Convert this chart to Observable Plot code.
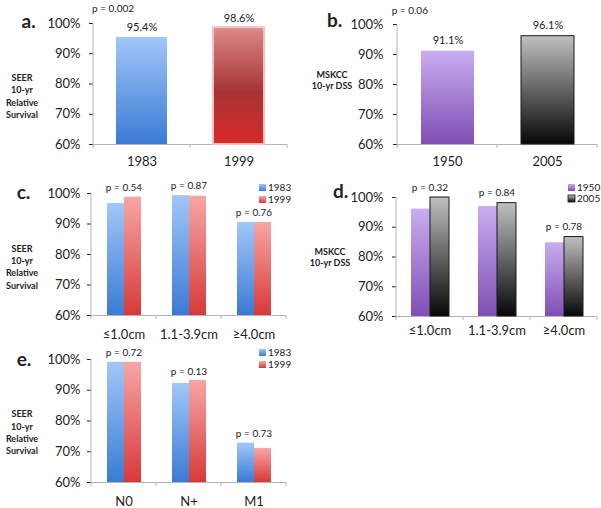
<!DOCTYPE html>
<html>
<head>
<meta charset="utf-8">
<script src="https://cdn.jsdelivr.net/npm/d3@7"></script>
<script src="https://cdn.jsdelivr.net/npm/@observablehq/plot@0.6"></script>
<style>
  body { margin: 0; background: #fff; }
  #root { position: relative; width: 601px; height: 508px; overflow: hidden; background: #fff; font-family: Lato, "Open Sans", sans-serif; color: #222; }
  #root svg.panel { position: absolute; }
  #root svg.overlay { position: absolute; left: 0; top: 0; pointer-events: none; }
  g[aria-label="y-axis tick"] { stroke: #b4b4b4; }
</style>
</head>
<body>
<div id="root">
  <svg width="0" height="0" style="position:absolute">
    <defs>
      <linearGradient id="gBlue" x1="0" y1="0" x2="0" y2="1">
        <stop offset="0" stop-color="#a2c7f8"/><stop offset="1" stop-color="#3a7bd5"/>
      </linearGradient>
      <linearGradient id="gRedA" x1="0" y1="0" x2="0" y2="1">
        <stop offset="0" stop-color="#dc8a8a"/><stop offset="0.55" stop-color="#a63333"/><stop offset="1" stop-color="#d92a2a"/>
      </linearGradient>
      <linearGradient id="gRed" x1="0" y1="0" x2="0" y2="1">
        <stop offset="0" stop-color="#f7a6a6"/><stop offset="1" stop-color="#d83939"/>
      </linearGradient>
      <linearGradient id="gPurple" x1="0" y1="0" x2="0" y2="1">
        <stop offset="0" stop-color="#caadf0"/><stop offset="1" stop-color="#7f4fb4"/>
      </linearGradient>
      <linearGradient id="gGray" x1="0" y1="0" x2="0" y2="1">
        <stop offset="0" stop-color="#c0c0c0"/><stop offset="1" stop-color="#070707"/>
      </linearGradient>
    </defs>
  </svg>
</div>
<script>
// ---------- data ----------
const yMin = 60, yMax = 100;
const yTicks = [60, 70, 80, 90, 100];

const aYears = ["1983", "1999"];
const aSurvival = [95.4, 98.6];
const aPValue = "p = 0.002";

const bYears = ["1950", "2005"];
const bSurvival = [91.1, 96.1];
const bPValue = "p = 0.06";

const seerYears = ["1983", "1999"];
const mskccYears = ["1950", "2005"];

const sizeCategories = ["≤1.0cm", "1.1-3.9cm", "≥4.0cm"];
const cSeer1983 = [96.7, 99.3, 90.5];
const cSeer1999 = [98.8, 99.1, 90.5];
const cPValues = ["p = 0.54", "p = 0.87", "p = 0.76"];

const dMskcc1950 = [96.1, 97.0, 84.8];
const dMskcc2005 = [100.0, 98.1, 86.7];
const dPValues = ["p = 0.32", "p = 0.84", "p = 0.78"];

const stageCategories = ["N0", "N+", "M1"];
const eSeer1983 = [99.1, 92.2, 72.8];
const eSeer1999 = [99.1, 93.2, 71.1];
const ePValues = ["p = 0.72", "p = 0.13", "p = 0.73"];

const panelLetters = ["a.", "b.", "c.", "d.", "e."];
const seerTitle = ["SEER", "10-yr", "Relative", "Survival"];
const mskccTitle = ["MSKCC", "10-yr DSS"];

// ---------- styles ----------
const axisGray = "#b4b4b4";
const textColor = "#222";
const FONT = "Lato, 'Open Sans', sans-serif";
const barStyles = {
  seer83: {fill: "url(#gBlue)", stroke: "none", strokeWidth: 0},
  seer99a: {fill: "url(#gRedA)", stroke: "#f3c0c0", strokeWidth: 2},
  seer99: {fill: "url(#gRed)", stroke: "none", strokeWidth: 0},
  msk50: {fill: "url(#gPurple)", stroke: "none", strokeWidth: 0},
  msk05: {fill: "url(#gGray)", stroke: "#1a1a1a", strokeWidth: 1}
};

// ---------- tables built from arrays ----------
const singleRows = (years, vals, keys) => years.map((yr, i) => ({cat: yr, s: "v", value: vals[i], k: keys[i]}));
const groupRows = (cats, series, v0, v1, keys) => cats.flatMap((c, i) => [
  {cat: c, s: series[0], value: v0[i], k: keys[0]},
  {cat: c, s: series[1], value: v1[i], k: keys[1]}
]);
const groupTops = (cats, v0, v1, ps) => cats.map((c, i) => ({cat: c, top: Math.max(v0[i], v1[i]), p: ps[i]}));

const root = document.getElementById("root");

function drawPanel(p) {
  const keys = [...new Set(p.rows.map(r => r.k))];
  const marks = [Plot.ruleY([yMin], {stroke: axisGray})];
  for (const k of keys) {
    const st = barStyles[k];
    marks.push(Plot.barY(p.rows.filter(r => r.k === k), {
      fx: "cat", x: "s", y1: yMin, y2: "value",
      fill: st.fill, stroke: st.stroke, strokeWidth: st.strokeWidth
    }));
  }
  if (p.valueLabels) {
    marks.push(Plot.text(p.rows, {fx: "cat", x: "s", y: "value", text: r => r.value.toFixed(1) + "%", dy: p.labelDy, fontSize: 11, fill: textColor}));
  }
  if (p.groups) {
    marks.push(Plot.text(p.groups, {fx: "cat", y: "top", text: "p", dy: p.labelDy, fontSize: 10, fill: textColor}));
  }
  const plot = Plot.plot({
    width: p.w, height: p.h,
    marginLeft: p.ml, marginRight: p.mr, marginTop: p.mt, marginBottom: p.mb,
    style: {fontFamily: FONT, fontSize: "13px", color: textColor, background: "transparent", overflow: "visible"},
    fx: {domain: p.cats, paddingInner: 0, paddingOuter: 0, label: null, axis: "bottom", tickSize: 0, tickPadding: p.xPad},
    x: {domain: p.series, paddingInner: 0, paddingOuter: p.innerPad, axis: null},
    y: {domain: [yMin, yMax], ticks: yTicks, tickFormat: d => d + "%", tickSize: 4, tickPadding: p.yPad, label: null},
    marks
  });
  plot.classList.add("panel");
  plot.style.left = p.left + "px";
  plot.style.top = p.top + "px";
  // axis line and category boundary ticks from the library's scales
  const fx = plot.scale("fx"), y = plot.scale("y");
  const y0 = y.apply(yMin), y1 = y.apply(yMax);
  const bounds = fx.domain.map(c => fx.apply(c)).concat([fx.apply(fx.domain[fx.domain.length - 1]) + fx.bandwidth]);
  const g = d3.select(plot).append("g").attr("stroke", axisGray).attr("fill", "none");
  g.append("line").attr("x1", bounds[0]).attr("x2", bounds[0]).attr("y1", y0).attr("y2", y1);
  g.selectAll("line.b").data(bounds).join("line").attr("class", "b")
    .attr("x1", d => d).attr("x2", d => d).attr("y1", y0).attr("y2", y0 + 4);
  root.appendChild(plot);
}

drawPanel({left: 0, top: 0, w: 300, h: 170, ml: 92, mr: 13, mt: 23, mb: 26, yPad: 9, xPad: 12.5,
  cats: aYears, series: ["v"], innerPad: 0.4375, rows: singleRows(aYears, aSurvival, ["seer83", "seer99a"]),
  valueLabels: true, labelDy: -9.5});
drawPanel({left: 300, top: 0, w: 301, h: 170, ml: 97, mr: 4, mt: 24, mb: 26, yPad: 10, xPad: 12.5,
  cats: bYears, series: ["v"], innerPad: 0.426, rows: singleRows(bYears, bSurvival, ["msk50", "msk05"]),
  valueLabels: true, labelDy: -10.5});
drawPanel({left: 0, top: 170, w: 300, h: 170, ml: 90, mr: 13, mt: 23, mb: 25, yPad: 7, xPad: 14,
  cats: sizeCategories, series: seerYears, innerPad: 0.875,
  rows: groupRows(sizeCategories, seerYears, cSeer1983, cSeer1999, ["seer83", "seer99"]),
  groups: groupTops(sizeCategories, cSeer1983, cSeer1999, cPValues), labelDy: -9.5});
drawPanel({left: 300, top: 170, w: 301, h: 170, ml: 96, mr: 4, mt: 27, mb: 24, yPad: 9, xPad: 9.5,
  cats: sizeCategories, series: mskccYears, innerPad: 0.72,
  rows: groupRows(sizeCategories, mskccYears, dMskcc1950, dMskcc2005, ["msk50", "msk05"]),
  groups: groupTops(sizeCategories, dMskcc1950, dMskcc2005, dPValues), labelDy: -10});
drawPanel({left: 0, top: 340, w: 300, h: 168, ml: 90, mr: 13, mt: 19, mb: 26, yPad: 7, xPad: 14.5,
  cats: stageCategories, series: seerYears, innerPad: 0.875,
  rows: groupRows(stageCategories, seerYears, eSeer1983, eSeer1999, ["seer83", "seer99"]),
  groups: groupTops(stageCategories, eSeer1983, eSeer1999, ePValues), labelDy: -9});

// ---------- annotations (panel letters, axis titles, p-values, legends) ----------
const ov = d3.select(root).append("svg").attr("class", "overlay").attr("width", 601).attr("height", 508)
  .style("font-family", FONT).attr("fill", textColor);

const letterPos = [[21.5, 28.3], [327, 27.3], [16.7, 199.3], [333, 198], [16.7, 366]];
ov.selectAll("text.letter").data(panelLetters).join("text").attr("class", "letter")
  .attr("x", (d, i) => letterPos[i][0]).attr("y", (d, i) => letterPos[i][1])
  .attr("font-size", 19).attr("font-weight", 700).text(d => d);

const titles = [
  {lines: seerTitle, x: 22, y: 77.5, dy: 12.4},
  {lines: mskccTitle, x: 332, y: 74.5, dy: 11},
  {lines: seerTitle, x: 22, y: 248.3, dy: 12.4},
  {lines: mskccTitle, x: 330, y: 251.7, dy: 11},
  {lines: seerTitle, x: 22, y: 414, dy: 12.4}
];
for (const t of titles) {
  ov.append("g").selectAll("text").data(t.lines).join("text")
    .attr("x", t.x).attr("y", (d, i) => t.y + i * t.dy + 3.2)
    .attr("text-anchor", "middle").attr("font-size", 9).attr("font-weight", 700).text(d => d);
}

ov.append("text").attr("x", 92).attr("y", 12).attr("font-size", 10).text(aPValue);
ov.append("text").attr("x", 391.7).attr("y", 13.5).attr("font-size", 10).text(bPValue);

const legends = [
  {x: 259, y: 184, labels: seerYears, keys: ["seer83", "seer99"], gap: 12},
  {x: 568, y: 184, labels: mskccYears, keys: ["msk50", "msk05"], gap: 11},
  {x: 259, y: 349, labels: seerYears, keys: ["seer83", "seer99"], gap: 12}
];
for (const L of legends) {
  const g = ov.append("g");
  L.labels.forEach((lab, i) => {
    const st = barStyles[L.keys[i]];
    g.append("rect").attr("x", L.x).attr("y", L.y + i * L.gap).attr("width", 7).attr("height", 7)
      .attr("fill", st.fill).attr("stroke", st.stroke === "none" ? null : st.stroke).attr("stroke-width", st.strokeWidth ? 0.8 : null);
    g.append("text").attr("x", L.x + 9).attr("y", L.y + i * L.gap + 7.2).attr("font-size", 10).text(lab);
  });
}
</script>
</body>
</html>
